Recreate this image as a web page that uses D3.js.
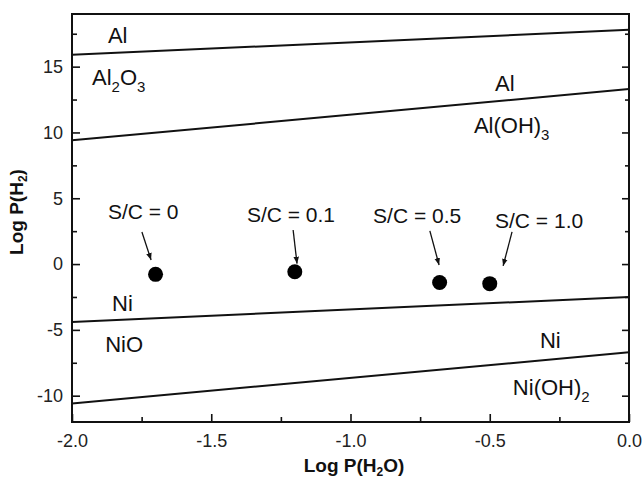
<!DOCTYPE html>
<html>
<head>
<meta charset="utf-8">
<script src="https://cdn.jsdelivr.net/npm/d3@7/dist/d3.min.js"></script>
<style>
  html, body { margin: 0; padding: 0; background: #fff; }
  svg { display: block; font-family: "Liberation Sans", Arial, sans-serif; }
</style>
</head>
<body>
<svg id="chart" width="644" height="480"></svg>
<script>
// ---- data ----
const xDomain = [-2, 0];
const yDomain = [-12, 19];
const xMajorTicks = [-2.0, -1.5, -1.0, -0.5, 0.0];
const xMinorTicks = [-1.75, -1.25, -0.75, -0.25];
const yMajorTicks = [-10, -5, 0, 5, 10, 15];
const yMinorTicks = [-7.5, -2.5, 2.5, 7.5, 12.5, 17.5];

// boundary lines: [x, y] endpoints
const lineAlAl2O3 = [[-2, 15.9], [0, 17.8]];
const lineAlAlOH3 = [[-2, 9.4], [0, 13.3]];
const lineNiNiO = [[-2, -4.4], [0, -2.5]];
const lineNiNiOH2 = [[-2, -10.6], [0, -6.7]];

// experimental points (S/C ratios)
const scLabels = ["S/C = 0", "S/C = 0.1", "S/C = 0.5", "S/C = 1.0"];
const pointX = [-1.70, -1.20, -0.68, -0.50];
const pointY = [-0.78, -0.58, -1.40, -1.49];

// ---- layout ----
const svg = d3.select("#chart");
const M = { left: 72, right: 629, top: 14, bottom: 422 };
const x = d3.scaleLinear().domain(xDomain).range([M.left, M.right]);
const y = d3.scaleLinear().domain(yDomain).range([M.bottom, M.top]);

const defs = svg.append("defs");
defs.append("clipPath").attr("id", "clip")
  .append("rect").attr("x", M.left).attr("y", M.top)
  .attr("width", M.right - M.left).attr("height", M.bottom - M.top);
defs.append("marker").attr("id", "arrow")
  .attr("viewBox", "0 0 10 10").attr("refX", 10).attr("refY", 5)
  .attr("markerWidth", 7).attr("markerHeight", 7).attr("markerUnits", "userSpaceOnUse")
  .attr("orient", "auto")
  .append("path").attr("d", "M0,1 L10,5 L0,9 Z").attr("fill", "#111");

const fmtX = d => d3.format(".1f")(d).replace("\u2212", "-");
const fmtY = d => String(d).replace("\u2212", "-");

// axes
const gx = svg.append("g").attr("transform", `translate(0,${M.bottom})`)
  .call(d3.axisBottom(x).tickValues(xMajorTicks).tickFormat(fmtX).tickSize(-8).tickPadding(12));
const gxm = svg.append("g").attr("transform", `translate(0,${M.bottom})`)
  .call(d3.axisBottom(x).tickValues(xMinorTicks).tickFormat("").tickSize(-5));
const gy = svg.append("g").attr("transform", `translate(${M.left},0)`)
  .call(d3.axisLeft(y).tickValues(yMajorTicks).tickFormat(fmtY).tickSize(-8).tickPadding(9));
const gym = svg.append("g").attr("transform", `translate(${M.left},0)`)
  .call(d3.axisLeft(y).tickValues(yMinorTicks).tickFormat("").tickSize(-5));
const gyr = svg.append("g").attr("transform", `translate(${M.right},0)`)
  .call(d3.axisRight(y).tickValues(yMajorTicks).tickFormat("").tickSize(-7));
const gyrm = svg.append("g").attr("transform", `translate(${M.right},0)`)
  .call(d3.axisRight(y).tickValues(yMinorTicks).tickFormat("").tickSize(-4));

[gx, gxm, gy, gym, gyr, gyrm].forEach(g => {
  g.select(".domain").remove();
  g.selectAll(".tick line").attr("stroke", "#111").attr("stroke-width", 1.6);
  g.selectAll(".tick text").attr("fill", "#222")
    .style("font-size", "18px").style("font-family", "'Liberation Sans', Arial, sans-serif");
});

// frame
svg.append("rect").attr("x", M.left).attr("y", M.top)
  .attr("width", M.right - M.left).attr("height", M.bottom - M.top)
  .attr("fill", "none").attr("stroke", "#111").attr("stroke-width", 2);

// boundary lines
const line = d3.line().x(d => x(d[0])).y(d => y(d[1]));
const plot = svg.append("g").attr("clip-path", "url(#clip)");
[lineAlAl2O3, lineAlAlOH3, lineNiNiO, lineNiNiOH2].forEach(l => {
  plot.append("path").attr("d", line(l)).attr("fill", "none")
    .attr("stroke", "#111").attr("stroke-width", 2);
});

// region labels (text anchor at data coordinates: start x, baseline y)
const regionLabels = [
  { x: -1.871, y: 16.8, parts: [["Al", 0]] },
  { x: -1.928, y: 13.6, parts: [["Al", 0], ["2", 1], ["O", 0], ["3", 1]] },
  { x: -0.481, y: 13.15, parts: [["Al", 0]] },
  { x: -0.557, y: 9.95, parts: [["Al(OH)", 0], ["3", 1]] },
  { x: -1.856, y: -3.56, parts: [["Ni", 0]] },
  { x: -1.881, y: -6.68, parts: [["NiO", 0]] },
  { x: -0.320, y: -6.38, parts: [["Ni", 0]] },
  { x: -0.417, y: -9.95, parts: [["Ni(OH)", 0], ["2", 1]] }
];
regionLabels.forEach(lb => {
  const t = svg.append("text").attr("x", x(lb.x)).attr("y", y(lb.y))
    .attr("fill", "#111").style("font-size", "22px");
  let prevSub = 0;
  lb.parts.forEach(([s, sub]) => {
    const ts = t.append("tspan").text(s);
    const dy = (sub - prevSub) * 7;
    if (dy !== 0) ts.attr("dy", dy);
    if (sub) ts.style("font-size", "15px");
    prevSub = sub;
  });
});

// S/C labels and arrows
const scLabelPos = [[-1.871, 3.41], [-1.372, 3.2], [-0.919, 3.1], [-0.481, 2.74]];
const arrowFrom = [[-1.749, 2.44], [-1.206, 2.59], [-0.715, 2.52], [-0.420, 2.44]];
const arrowTo = [[-1.716, 0.31], [-1.192, 0.03], [-0.682, -0.07], [-0.452, -0.14]];

scLabels.forEach((s, i) => {
  svg.append("text").attr("x", x(scLabelPos[i][0])).attr("y", y(scLabelPos[i][1]))
    .attr("fill", "#111").style("font-size", "21px").text(s);
  svg.append("line")
    .attr("x1", x(arrowFrom[i][0])).attr("y1", y(arrowFrom[i][1]))
    .attr("x2", x(arrowTo[i][0])).attr("y2", y(arrowTo[i][1]))
    .attr("stroke", "#111").attr("stroke-width", 1.3).attr("marker-end", "url(#arrow)");
});

// points
svg.append("g").selectAll("circle").data(pointX).join("circle")
  .attr("cx", (d, i) => x(d)).attr("cy", (d, i) => y(pointY[i]))
  .attr("r", 7.5).attr("fill", "#000");

// axis titles
const xt = svg.append("text").attr("x", 354).attr("y", 472).attr("text-anchor", "middle")
  .style("font-size", "19px").style("font-weight", "bold").attr("fill", "#111");
xt.append("tspan").text("Log P(H");
xt.append("tspan").text("2").attr("dy", 4).style("font-size", "12px");
xt.append("tspan").text("O)").attr("dy", -4);

const yt = svg.append("text").attr("transform", "translate(23,212) rotate(-90)")
  .attr("text-anchor", "middle")
  .style("font-size", "19px").style("font-weight", "bold").attr("fill", "#111");
yt.append("tspan").text("Log P(H");
yt.append("tspan").text("2").attr("dy", 4).style("font-size", "12px");
yt.append("tspan").text(")").attr("dy", -4);
</script>
</body>
</html>
